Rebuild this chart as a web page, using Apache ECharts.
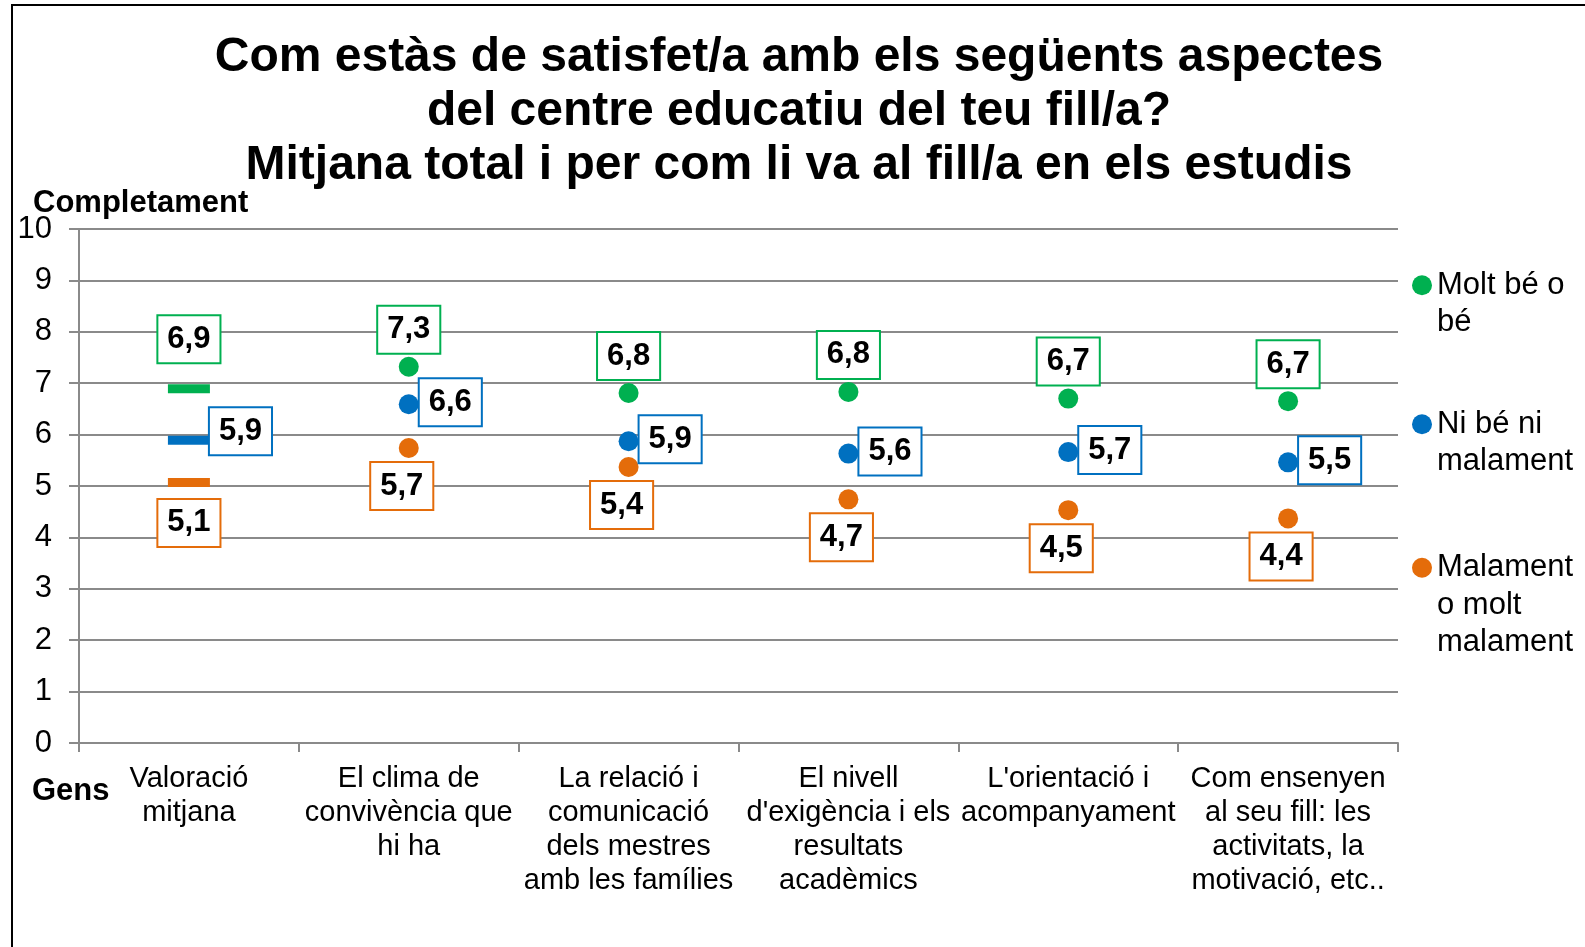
<!DOCTYPE html>
<html>
<head>
<meta charset="utf-8">
<script src="https://cdn.jsdelivr.net/npm/echarts@6/dist/echarts.min.js"></script>
<style>
html,body{margin:0;padding:0;background:#fff;}
#chart{width:1585px;height:947px;}
</style>
</head>
<body>
<div id="chart"></div>
<script>
// ---- Data ----
var titleText = 'Com estàs de satisfet/a amb els següents aspectes\ndel centre educatiu del teu fill/a?\nMitjana total i per com li va al fill/a en els estudis';
var categories = [
  'Valoració\nmitjana',
  'El clima de\nconvivència que\nhi ha',
  'La relació i\ncomunicació\ndels mestres\namb les famílies',
  'El nivell\nd\'exigència i els\nresultats\nacadèmics',
  'L\'orientació i\nacompanyament',
  'Com ensenyen\nal seu fill: les\nactivitats, la\nmotivació, etc..'
];
var seriesNames = ['Molt bé o bé', 'Ni bé ni malament', 'Malament o molt malament'];
var legendLabels = ['Molt bé o\nbé', 'Ni bé ni\nmalament', 'Malament\no molt\nmalament'];
var valuesGood = [6.89, 7.32, 6.81, 6.83, 6.70, 6.65];
var valuesNeutral = [5.89, 6.59, 5.87, 5.63, 5.66, 5.46];
var valuesBad = [5.07, 5.74, 5.37, 4.74, 4.53, 4.37];
var yTicks = [0, 10, 1];
var yTopLabel = 'Completament';
var yBottomLabel = 'Gens';

// ---- Styles ----
var FONT = '"Liberation Sans", Arial, sans-serif';
var colors = ['#00B050', '#0070C0', '#E46C0A'];
var gridColor = '#8a8a8a';

function fmt(p) {
  return (Math.round(p.value * 10) / 10).toFixed(1).replace('.', ',');
}
function boxLabel(color, extra) {
  var o = {
    show: true,
    formatter: fmt,
    color: '#000',
    opacity: 1,
    fontFamily: FONT,
    fontSize: 31,
    fontWeight: 'bold',
    lineHeight: 32,
    backgroundColor: '#fff',
    borderColor: color,
    borderWidth: 2,
    padding: [7, 9, 7, 9]
  };
  for (var k in extra) o[k] = extra[k];
  return o;
}
// first category (average) drawn as a dash
function buildData(values, firstLabel) {
  return values.map(function (v, i) {
    if (i === 0) {
      return { value: v, symbol: 'rect', symbolSize: [42, 9], label: firstLabel };
    }
    return v;
  });
}

var series = [
  {
    name: seriesNames[0], type: 'scatter', symbol: 'circle', symbolSize: 20,
    itemStyle: { color: colors[0], opacity: 1 },
    label: boxLabel(colors[0], { position: 'top', distance: 4 }),
    data: buildData(valuesGood, { distance: 22 })
  },
  {
    name: seriesNames[1], type: 'scatter', symbol: 'circle', symbolSize: 20,
    itemStyle: { color: colors[1], opacity: 1 },
    label: boxLabel(colors[1], { position: 'right', distance: 1, offset: [0, -2] }),
    data: buildData(valuesNeutral, { distance: 0, offset: [0, -9] })
  },
  {
    name: seriesNames[2], type: 'scatter', symbol: 'circle', symbolSize: 20,
    itemStyle: { color: colors[2], opacity: 1 },
    label: boxLabel(colors[2], { position: 'bottom', distance: 5, offset: [-7, 0] }),
    data: buildData(valuesBad, { distance: 13, offset: [0, 0] })
  }
];

var legendTops = [229, 368, 474];
var legendPad = [1, 1, 2]; // blank lines so first text line aligns with icon
var legends = seriesNames.map(function (n, i) {
  return {
    data: [{ name: n, icon: 'circle' }],
    left: 1412, top: legendTops[i], padding: 0,
    itemWidth: 20, itemHeight: 20,
    selectedMode: false,
    formatter: function () {
      var pre = '';
      for (var j = 0; j < legendPad[i]; j++) pre += '\n';
      return pre + legendLabels[i];
    },
    textStyle: { color: '#000', fontFamily: FONT, fontSize: 31, lineHeight: 37.5 }
  };
});

var chart = echarts.init(document.getElementById('chart'), null, { renderer: 'canvas' });
chart.setOption({
  animation: false,
  backgroundColor: '#fff',
  title: {
    text: titleText,
    left: 799, top: 31,
    textAlign: 'center',
    padding: 0,
    textStyle: { color: '#000', fontFamily: FONT, fontSize: 48, fontWeight: 'bold', lineHeight: 54 }
  },
  legend: legends,
  grid: { left: 79, right: 187, top: 229, bottom: 204, containLabel: false },
  xAxis: {
    type: 'category',
    data: categories,
    axisLine: { lineStyle: { color: gridColor, width: 2 } },
    axisTick: { show: true, length: 9, lineStyle: { color: gridColor, width: 2 } },
    axisLabel: { interval: 0, margin: 19, color: '#000', fontFamily: FONT, fontSize: 29, lineHeight: 34 },
    splitLine: { show: false }
  },
  yAxis: {
    type: 'value',
    min: yTicks[0], max: yTicks[1], interval: yTicks[2],
    axisLine: { show: true, lineStyle: { color: gridColor, width: 2 } },
    axisTick: { show: true, length: 10, lineStyle: { color: gridColor, width: 2 } },
    axisLabel: { margin: 27, color: '#000', fontFamily: FONT, fontSize: 31 },
    splitLine: { show: true, lineStyle: { color: gridColor, width: 2 } }
  },
  graphic: [
    { type: 'rect', shape: { x: 12, y: 5, width: 1650, height: 1050 }, style: { fill: 'none', stroke: '#000', lineWidth: 2 }, silent: true, z: 100 },
    { type: 'text', x: 33, y: 203, style: { text: yTopLabel, fill: '#000', fontFamily: FONT, fontSize: 31, fontWeight: 'bold', align: 'left', verticalAlign: 'middle' } },
    { type: 'text', x: 32, y: 791, style: { text: yBottomLabel, fill: '#000', fontFamily: FONT, fontSize: 31, fontWeight: 'bold', align: 'left', verticalAlign: 'middle' } }
  ],
  series: series
});
</script>
</body>
</html>
